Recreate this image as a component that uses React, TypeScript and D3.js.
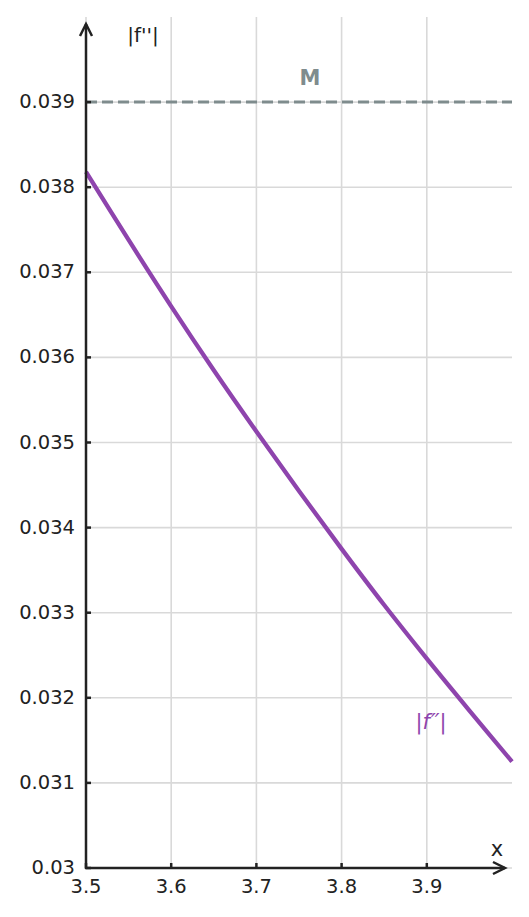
import React from 'react';
import * as d3 from 'd3';

const xValues = [3.5, 3.55, 3.6, 3.65, 3.7, 3.75, 3.8, 3.85, 3.9, 3.95, 4.0];
const curveValues = [0.03818, 0.03738, 0.0366, 0.03585, 0.03513, 0.03443, 0.03375, 0.03309, 0.03246, 0.03185, 0.03125];

const xTicks = [3.5, 3.6, 3.7, 3.8, 3.9];
const xTickLabels = ['3.5', '3.6', '3.7', '3.8', '3.9'];
const yTicks = [0.03, 0.031, 0.032, 0.033, 0.034, 0.035, 0.036, 0.037, 0.038, 0.039];
const yTickLabels = ['0.03', '0.031', '0.032', '0.033', '0.034', '0.035', '0.036', '0.037', '0.038', '0.039'];
const boundM = 0.039;

const width = 529;
const height = 917;
const font = '"DejaVu Sans", sans-serif';

const App: React.FC = () => {
  const xScale = d3.scaleLinear().domain([3.5, 4.0]).range([86, 512]);
  const yScale = d3.scaleLinear().domain([0.03, 0.04]).range([868, 17]);

  const points = xValues.map((x, i) => ({ x, y: curveValues[i] }));
  const line = d3.line<{ x: number; y: number }>()
    .x(d => xScale(d.x))
    .y(d => yScale(d.y))
    .curve(d3.curveCatmullRom);

  const [x0, x1] = xScale.range();
  const [yBottom, yTop] = yScale.range();
  const axisColor = '#222';
  const gridColor = '#d9d9d9';

  return (
    <svg width={width} height={height} style={{ position: 'absolute', left: 0, top: 0 }} fontFamily={font}>
      <rect width={width} height={height} fill="#fff" />

      {/* grid */}
      {xTicks.map((t, i) => (
        <line key={'gx' + i} x1={xScale(t)} x2={xScale(t)} y1={yTop} y2={yBottom} stroke={gridColor} strokeWidth={1.6} />
      ))}
      {yTicks.map((t, i) => (
        <line key={'gy' + i} x1={x0} x2={x1} y1={yScale(t)} y2={yScale(t)} stroke={gridColor} strokeWidth={1.6} />
      ))}

      {/* bound M */}
      <line x1={x0} x2={x1} y1={yScale(boundM)} y2={yScale(boundM)} stroke="#7f8c8d" strokeWidth={3} strokeDasharray="11 5" />
      <text x={310} y={yScale(boundM) - 17} textAnchor="middle" fontSize={21} fontWeight="bold" fill="#7f8c8d">M</text>

      {/* curve */}
      <path d={line(points) || ''} fill="none" stroke="#8e44ad" strokeWidth={4.3} />
      <text x={431} y={729} textAnchor="middle" fontSize={21} fill="#8e44ad">
        |<tspan fontStyle="italic">f</tspan><tspan fontStyle="italic" dx={1}>′</tspan><tspan fontStyle="italic" dx={-1}>′</tspan>|
      </text>

      {/* axes */}
      <line x1={x0} x2={x0} y1={yBottom + 1} y2={yTop + 7} stroke={axisColor} strokeWidth={2.5} />
      <polyline points={`${x0 - 6},${yTop + 19} ${x0},${yTop + 7} ${x0 + 6},${yTop + 19}`} fill="none" stroke={axisColor} strokeWidth={2.5} />
      <line x1={x0 - 1} x2={x1 - 7} y1={yBottom} y2={yBottom} stroke={axisColor} strokeWidth={2.5} />
      <polyline points={`${x1 - 19},${yBottom - 6} ${x1 - 7},${yBottom} ${x1 - 19},${yBottom + 6}`} fill="none" stroke={axisColor} strokeWidth={2.5} />

      {/* ticks and labels */}
      {yTicks.map((t, i) => (
        <g key={'ty' + i}>
          <line x1={x0} x2={x0 + 5} y1={yScale(t)} y2={yScale(t)} stroke={axisColor} strokeWidth={2.5} />
          <text x={x0 - 11} y={yScale(t) + 6} textAnchor="end" fontSize={19.5} fill={axisColor}>{yTickLabels[i]}</text>
        </g>
      ))}
      {xTicks.map((t, i) => (
        <g key={'tx' + i}>
          <line x1={xScale(t)} x2={xScale(t)} y1={yBottom} y2={yBottom - 5} stroke={axisColor} strokeWidth={2.5} />
          <text x={xScale(t)} y={yBottom + 25} textAnchor="middle" fontSize={19.5} fill={axisColor}>{xTickLabels[i]}</text>
        </g>
      ))}

      <text x={143} y={42} textAnchor="middle" fontSize={20} fill={axisColor}>|f''|</text>
      <text x={497} y={856} textAnchor="middle" fontSize={21} fill={axisColor}>x</text>
    </svg>
  );
};

export default App;
